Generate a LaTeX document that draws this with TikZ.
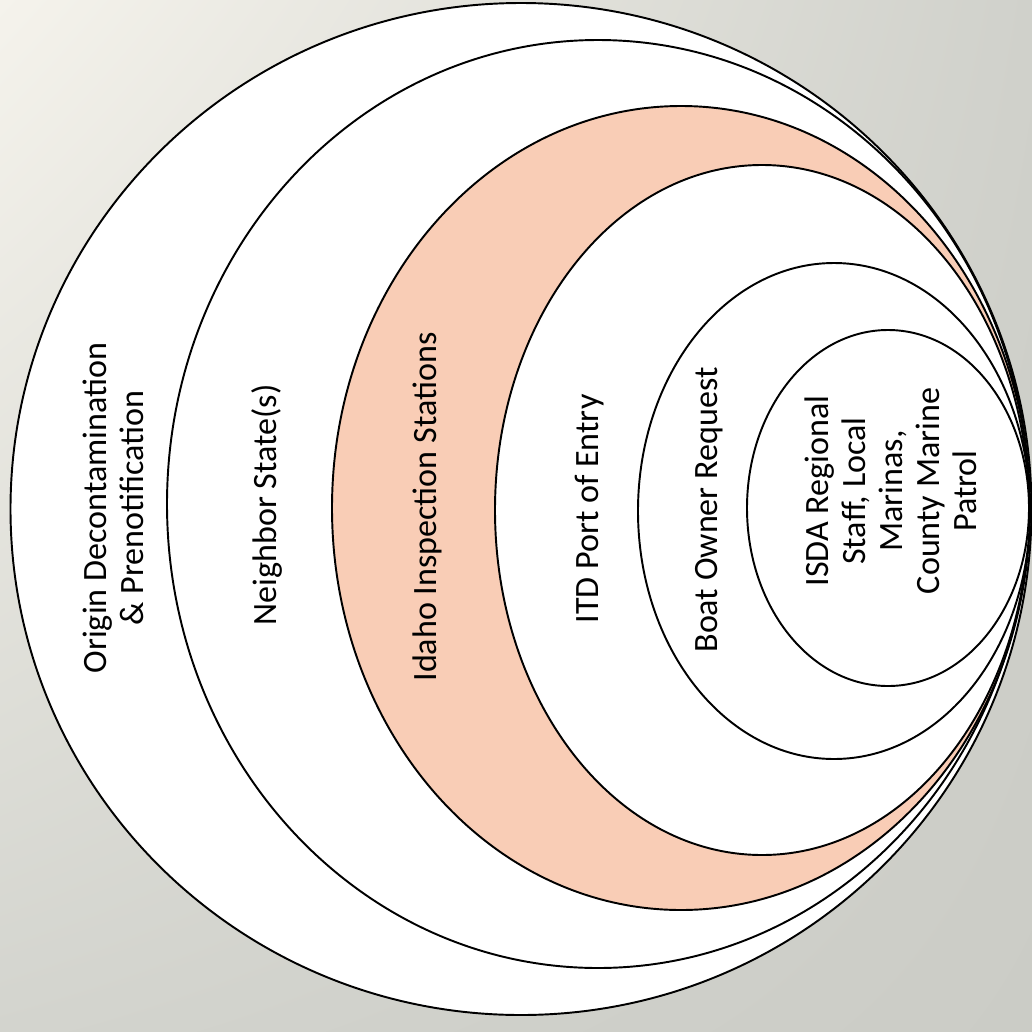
\documentclass[tikz,border=0pt]{standalone}
\usepackage{fontspec}
\setmainfont{Carlito}
\usetikzlibrary{shapes.geometric,shadings}
\definecolor{salmon}{HTML}{F9CDB6}
\definecolor{bgA}{HTML}{F5F3EC}
\definecolor{bgB}{HTML}{D0D1CB}
\definecolor{bgC}{HTML}{D3D4CE}
\definecolor{bgD}{HTML}{CBCCC6}
\tikzset{
  ring/.style={ellipse, draw=black, line width=1.1pt, fill=white, inner sep=0pt},
  label/.style={rotate=90, align=center, font=\fontsize{19.4}{21}\selectfont, inner sep=0pt}
}
\begin{document}
\begin{tikzpicture}[x=0.02cm, y=-0.02cm]
\useasboundingbox (0,0) rectangle (1032,1032);
\shade[upper left=bgA, upper right=bgB, lower left=bgC, lower right=bgD] (0,0) rectangle (1032,1032);
\node[ring, minimum width=1021*0.02cm, minimum height=1012*0.02cm] (r1) at (521,509) {};
\node[ring, minimum width=862*0.02cm, minimum height=928*0.02cm] (r2) at (598,504) {};
\node[ring, fill=salmon, minimum width=698*0.02cm, minimum height=804*0.02cm] (r3) at (681,508) {};
\node[ring, minimum width=534*0.02cm, minimum height=690*0.02cm] (r4) at (762,510) {};
\node[ring, minimum width=392*0.02cm, minimum height=496*0.02cm] (r5) at (834,511) {};
\node[ring, minimum width=282*0.02cm, minimum height=356*0.02cm] (r6) at (888,508) {};
\node[label] (t1) at (113,508) {Origin Decontamination\\ \& Prenotification};
\node[label] (t2) at (267,505) {Neighbor State(s)};
\node[label] (t3) at (427,507) {Idaho Inspection Stations};
\node[label] (t4) at (590,509) {ITD Port of Entry};
\node[label] (t5) at (709,510) {Boat Owner Request};
\node[label] (t6) at (891,491) {ISDA Regional\\ Staff, Local\\ Marinas,\\ County Marine\\ Patrol};
\end{tikzpicture}
\end{document}
